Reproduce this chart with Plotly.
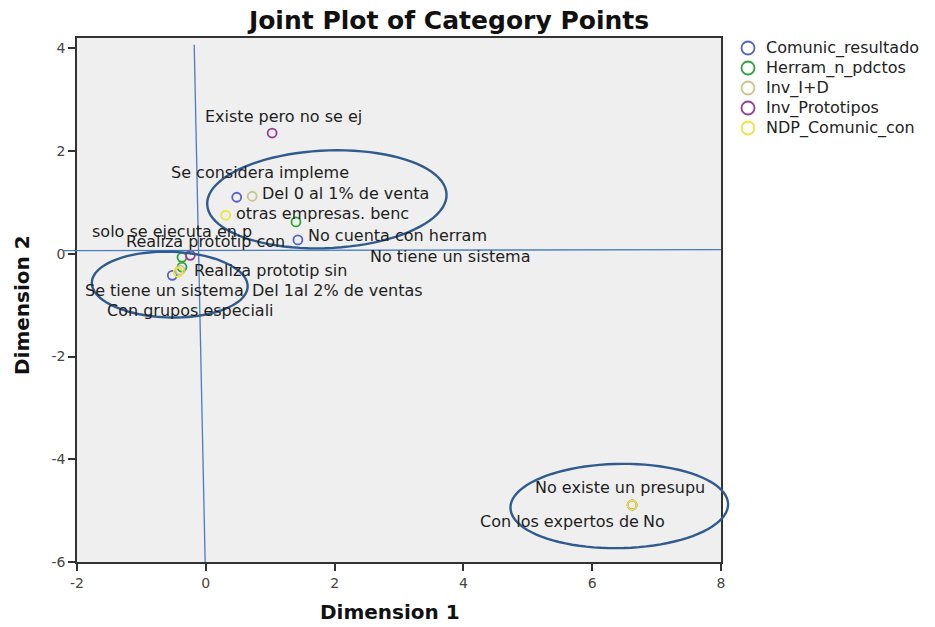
import math
import plotly.graph_objects as go

# Category point coordinates (Dimension 1, Dimension 2) per variable
comunic_x = [0.48, 1.43, -0.52]
comunic_y = [1.10, 0.27, -0.42]
comunic_lbl = ["Se considera impleme", "No cuenta con herram", "Se tiene un sistema"]

herram_x = [1.40, -0.37, -0.37]
herram_y = [0.62, -0.07, -0.26]
herram_lbl = ["No tiene un sistema", "solo se ejecuta en p", "Realiza prototip sin"]

invid_x = [0.72, -0.40, 6.62]
invid_y = [1.12, -0.32, -4.89]
invid_lbl = ["Del 0 al 1% de venta", "Del 1al 2% de ventas", "No existe un presupu"]

proto_x = [6.62, 1.03, -0.24]
proto_y = [-4.89, 2.35, -0.03]
proto_lbl = ["No", "Existe pero no se ej", "Realiza prototip con"]

ndp_x = [0.31, -0.43, 6.62]
ndp_y = [0.75, -0.36, -4.89]
ndp_lbl = ["otras empresas. benc", "Con grupos especiali", "Con los expertos de"]

series_names = ["Comunic_resultado", "Herram_n_pdctos", "Inv_I+D", "Inv_Prototipos", "NDP_Comunic_con"]
series_colors = ["#5563c4", "#2fa33a", "#c9c48e", "#973b98", "#ece63c"]

X_RANGE = [-2, 8]
Y_RANGE = [-6, 4.2]
X_TICKS = [-2, 0, 2, 4, 6, 8]
Y_TICKS = [-6, -4, -2, 0, 2, 4]

# page geometry
W, H = 935, 627
ML, MR, MT, MB = 77, 214, 38, 65
PW, PH = W - ML - MR, H - MT - MB
KX = PW / (X_RANGE[1] - X_RANGE[0])
KY = PH / (Y_RANGE[1] - Y_RANGE[0])

FONT = "DejaVu Sans, Arial, sans-serif"

# label placement: (anchor, pixel shift right, pixel shift up)
label_place = {
    "Existe pero no se ej": ("center", 11, 17),
    "Se considera impleme": ("center", 23, 25),
    "Del 0 al 1% de venta": ("left", 8, 3),
    "otras empresas. benc": ("left", 8, 2),
    "No cuenta con herram": ("left", 8, 4),
    "No tiene un sistema": ("left", 72, -35),
    "Realiza prototip con": ("center", 15, 14),
    "solo se ejecuta en p": ("center", -10, 26),
    "Realiza prototip sin": ("left", 10, -3),
    "Del 1al 2% de ventas": ("left", 70, -20),
    "Con grupos especiali": ("center", 12, -38),
    "Se tiene un sistema": ("center", -8, -15),
    "No existe un presupu": ("left", -99, 17),
    "Con los expertos de": ("right", 9, -17),
    "No": ("left", 9, -17),
}


def to_paper(x, y):
    return ((x - X_RANGE[0]) / (X_RANGE[1] - X_RANGE[0]),
            (y - Y_RANGE[0]) / (Y_RANGE[1] - Y_RANGE[0]))


def px_to_paper(px, py):
    return (px - ML) / PW, ((H - MB) - py) / PH


def ellipse_path(cx, cy, rx, ry, tilt_deg, n=90):
    """Closed ellipse outline in paper units; tilt applied in screen space."""
    t = math.radians(tilt_deg)
    parts = []
    for k in range(n + 1):
        a = 2 * math.pi * k / n
        ex, ey = rx * KX * math.cos(a), ry * KY * math.sin(a)
        px = ex * math.cos(t) - ey * math.sin(t)
        py = ex * math.sin(t) + ey * math.cos(t)
        parts.append("%.5f,%.5f" % to_paper(cx + px / KX, cy + py / KY))
    return "M " + " L ".join(parts) + " Z"


def line_path(x0, y0, x1, y1):
    a, b = to_paper(x0, y0), to_paper(x1, y1)
    return "M %.5f,%.5f L %.5f,%.5f" % (a[0], a[1], b[0], b[1])


fig = go.Figure()

groups = [
    (comunic_x, comunic_y, comunic_lbl),
    (herram_x, herram_y, herram_lbl),
    (invid_x, invid_y, invid_lbl),
    (proto_x, proto_y, proto_lbl),
    (ndp_x, ndp_y, ndp_lbl),
]

annotations = []
shapes = []
for name, color, (xs, ys, lbls) in zip(series_names, series_colors, groups):
    fig.add_trace(go.Scatter(
        x=xs, y=ys, mode="markers", name=name, showlegend=False,
        marker=dict(symbol="circle-open", size=9, color=color, line=dict(width=1.8, color=color)),
        cliponaxis=False, hoverinfo="text", text=lbls,
    ))
    for x, y, lbl in zip(xs, ys, lbls):
        anchor, dx, dy = label_place[lbl]
        annotations.append(dict(
            x=x, y=y, xref="x", yref="y", text=lbl, showarrow=False,
            xanchor=anchor, yanchor="middle", xshift=dx, yshift=dy,
            font=dict(family=FONT, size=16, color="#1e1e1e"),
        ))

# legend block: open circle + variable name per row
LEG_X, LEG_Y0, LEG_STEP, LEG_R = 748, 48, 20, 6.5
for i, (name, color) in enumerate(zip(series_names, series_colors)):
    cy = LEG_Y0 + i * LEG_STEP
    x0, y0 = px_to_paper(LEG_X - LEG_R, cy + LEG_R)
    x1, y1 = px_to_paper(LEG_X + LEG_R, cy - LEG_R)
    shapes.append(dict(type="circle", xref="paper", yref="paper", x0=x0, y0=y0, x1=x1, y1=y1,
                       line=dict(color=color, width=1.8)))
    tx, ty = px_to_paper(764, cy)
    annotations.append(dict(
        x=tx, y=ty, xref="paper", yref="paper", text=name, showarrow=False,
        xanchor="left", yanchor="middle",
        font=dict(family=FONT, size=16, color="#222"),
    ))

# axis titles
ax1x, ax1y = px_to_paper(390, 612)
annotations.append(dict(
    x=ax1x, y=ax1y, xref="paper", yref="paper",
    text="<b>Dimension 1</b>", showarrow=False, xanchor="center", yanchor="middle",
    font=dict(family=FONT, size=20, color="#111"),
))
ax2x, ax2y = px_to_paper(22, 305)
annotations.append(dict(
    x=ax2x, y=ax2y, xref="paper", yref="paper",
    text="<b>Dimension 2</b>", showarrow=False, textangle=-90, xanchor="center", yanchor="middle",
    font=dict(family=FONT, size=20, color="#111"),
))

guide = "#4a7cc4"
ring = "#2f5b8f"
shapes += [
    # hand-drawn reference axes through the origin
    dict(type="path", xref="paper", yref="paper", path=line_path(-2.22, 0.06, 8.0, 0.08),
         line=dict(color=guide, width=1.3), layer="above"),
    dict(type="path", xref="paper", yref="paper", path=line_path(-0.18, 4.07, -0.01, -6.0),
         line=dict(color=guide, width=1.3), layer="above"),
    # cluster outlines
    dict(type="path", xref="paper", yref="paper", path=ellipse_path(1.88, 1.06, 1.86, 0.95, 2.5),
         line=dict(color=ring, width=2.4), layer="above"),
    dict(type="path", xref="paper", yref="paper", path=ellipse_path(-0.56, -0.60, 1.21, 0.64, -1.5),
         line=dict(color=ring, width=2.4), layer="above"),
    dict(type="path", xref="paper", yref="paper", path=ellipse_path(6.42, -4.91, 1.69, 0.82, 1.0),
         line=dict(color=ring, width=2.4), layer="above"),
]

axis_common = dict(
    showgrid=False, zeroline=False, showline=True, linecolor="#333", linewidth=1.6,
    mirror=True, ticks="outside", ticklen=7, tickwidth=1.6, tickcolor="#333",
    tickfont=dict(family=FONT, size=14, color="#444"),
)

fig.update_layout(
    width=W, height=H, autosize=False,
    margin=dict(l=ML, r=MR, t=MT, b=MB, pad=0),
    paper_bgcolor="white", plot_bgcolor="#efefef",
    title=dict(text="<b>Joint Plot of Category Points</b>", x=(449 - ML) / PW, xref="paper",
               xanchor="center", y=1 - 20 / H, yref="container", yanchor="middle",
               font=dict(family=FONT, size=25, color="#111")),
    xaxis=dict(range=X_RANGE, tickvals=X_TICKS, ticktext=[str(v) for v in X_TICKS], **axis_common),
    yaxis=dict(range=Y_RANGE, tickvals=Y_TICKS, ticktext=[str(v) for v in Y_TICKS], **axis_common),
    shapes=shapes, annotations=annotations,
    showlegend=False,
)

fig.write_html("out.html")
